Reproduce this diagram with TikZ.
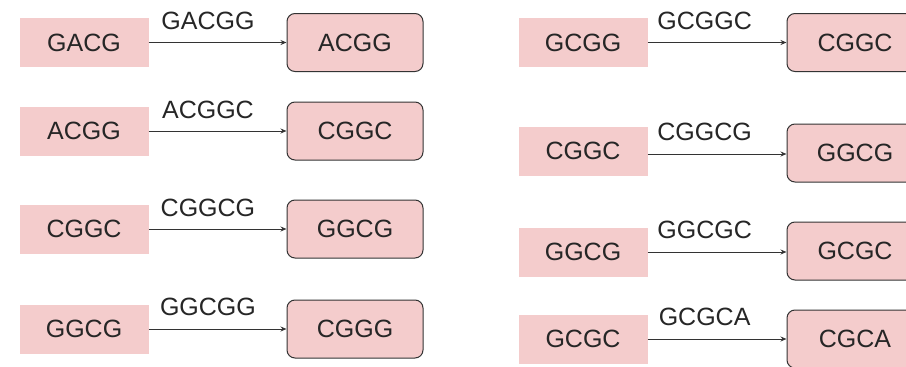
\documentclass[tikz,border=0pt]{standalone}
\usepackage{fontspec}
\setmainfont{Liberation Sans}
\usetikzlibrary{arrows.meta}
\definecolor{boxpink}{HTML}{F4CCCC}
\definecolor{edgegray}{HTML}{333333}
\tikzset{
  src/.style={rectangle, fill=boxpink, draw=none, minimum width=129pt, minimum height=49pt, inner sep=0pt, font=\fontsize{25}{30}\selectfont, text=black!85},
  tgt/.style={rectangle, rounded corners=8pt, fill=boxpink, draw=edgegray, line width=1pt, minimum width=136pt, minimum height=58pt, inner sep=0pt, font=\fontsize{25}{30}\selectfont, text=black!85},
  conn/.style={draw=edgegray, line width=1pt, -{Stealth[length=6pt,width=5pt]}},
  elab/.style={font=\fontsize{25}{30}\selectfont, text=black!85, inner sep=0pt}
}
\begin{document}
\begin{tikzpicture}[x=1pt,y=-1pt]
\useasboundingbox (0,0) rectangle (906,367);
\clip (0,0) rectangle (906,367);
% left column
\node[src] (s1) at (84,42.5) {GACG};
\node[tgt] (t1) at (355,42.5) {ACGG};
\node[src] (s2) at (84,131) {ACGG};
\node[tgt] (t2) at (355,131) {CGGC};
\node[src] (s3) at (84,229) {CGGC};
\node[tgt] (t3) at (355,229) {GGCG};
\node[src] (s4) at (84,329) {GGCG};
\node[tgt] (t4) at (355,329) {CGGG};
% right column
\node[src] (s5) at (583,42.5) {GCGG};
\node[tgt] (t5) at (855,42.5) {CGGC};
\node[src] (s6) at (583,151) {CGGC};
\node[tgt] (t6) at (855,153) {GGCG};
\node[src] (s7) at (583,252) {GGCG};
\node[tgt] (t7) at (855,251) {GCGC};
\node[src] (s8) at (583,339) {GCGC};
\node[tgt] (t8) at (855,339) {CGCA};
% connectors
\draw[conn] (s1.east) -- (s1.east -| t1.west) node[elab, pos=0.43, yshift=22pt] {GACGG};
\draw[conn] (s2.east) -- (s2.east -| t2.west) node[elab, pos=0.43, yshift=21pt] {ACGGC};
\draw[conn] (s3.east) -- (s3.east -| t3.west) node[elab, pos=0.43, yshift=21pt] {CGGCG};
\draw[conn] (s4.east) -- (s4.east -| t4.west) node[elab, pos=0.43, yshift=22pt] {GGCGG};
\draw[conn] (s5.east) -- (s5.east -| t5.west) node[elab, pos=0.41, yshift=22pt] {GCGGC};
\draw[conn] (s6.east) ++(0,3) coordinate (c6) -- (c6 -| t6.west) node[elab, pos=0.41, yshift=22pt] {CGGCG};
\draw[conn] (s7.east) -- (s7.east -| t7.west) node[elab, pos=0.41, yshift=22pt] {GGCGC};
\draw[conn] (s8.east) -- (s8.east -| t8.west) node[elab, pos=0.41, yshift=22pt] {GCGCA};
\end{tikzpicture}
\end{document}
